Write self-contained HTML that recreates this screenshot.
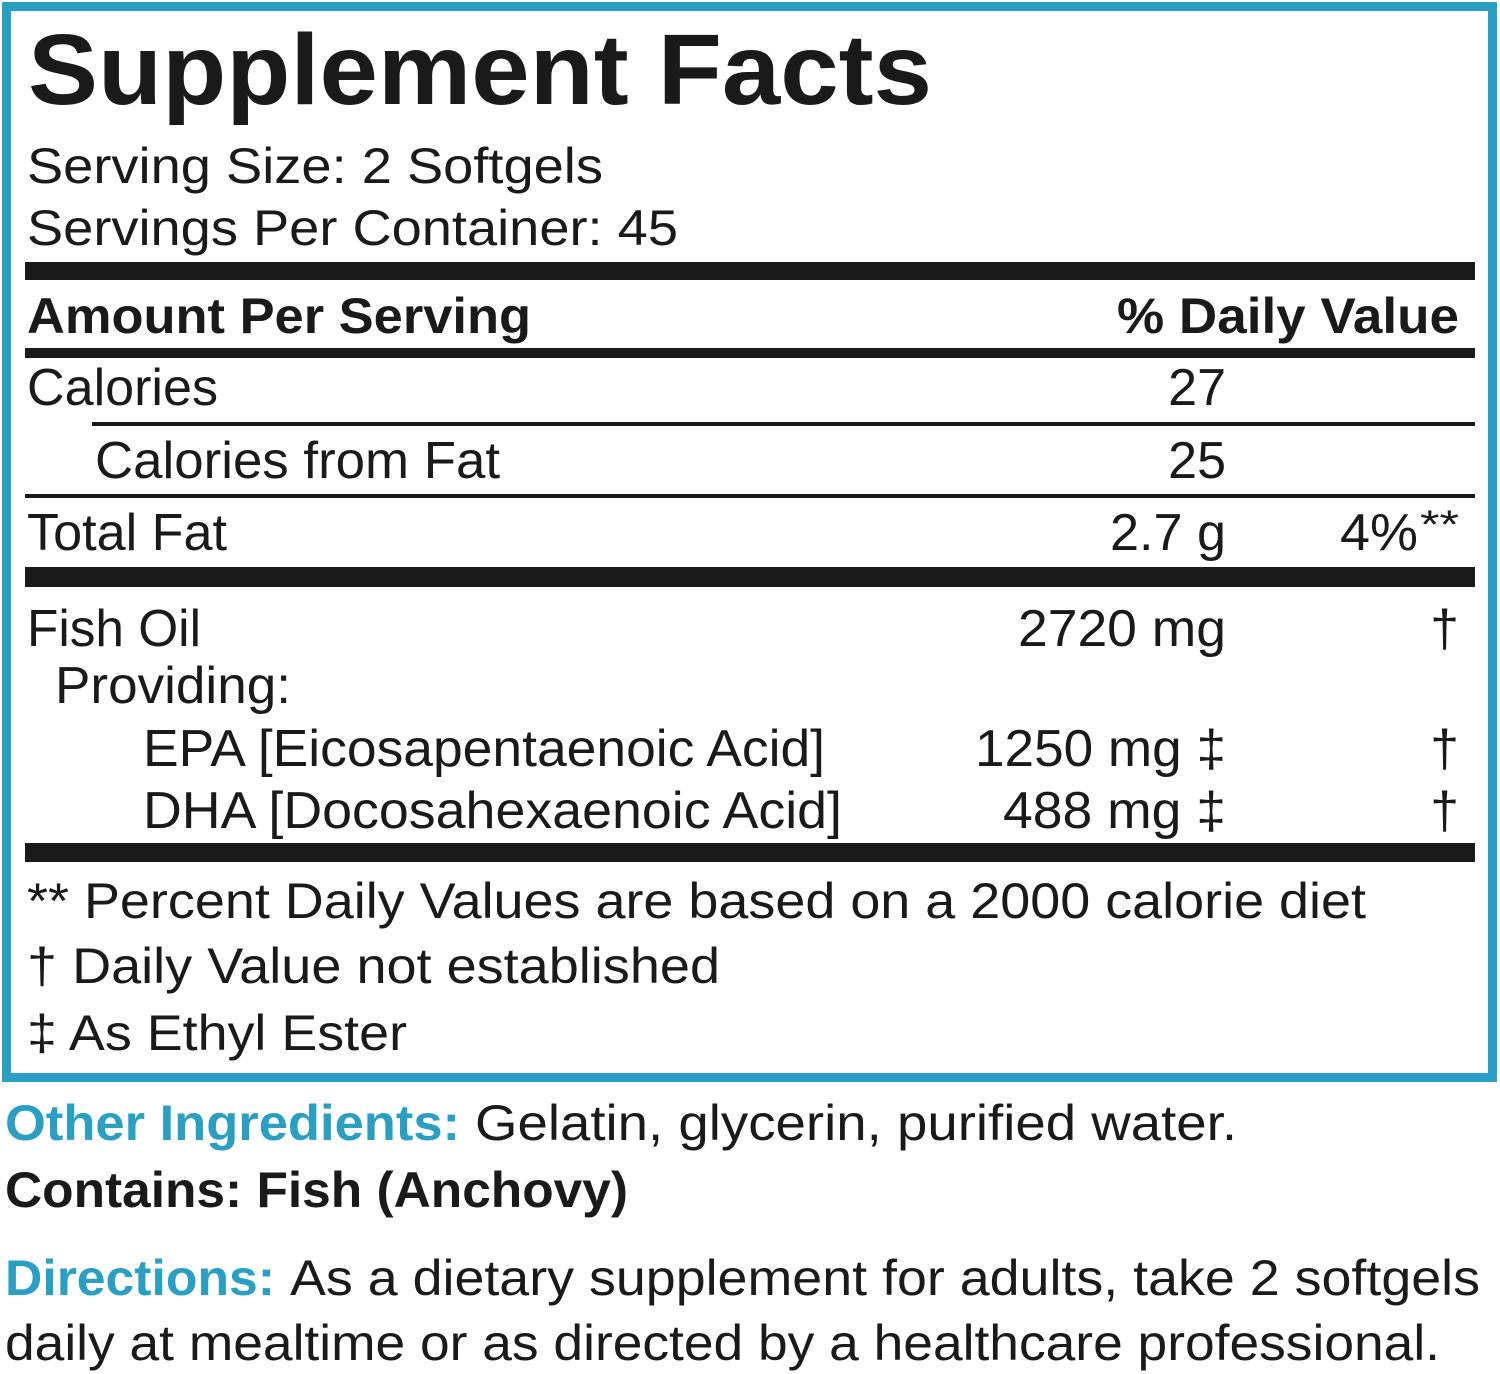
<!DOCTYPE html>
<html><head><meta charset="utf-8"><style>
html,body{margin:0;padding:0;background:#fff;}
svg{display:block;}
text{font-family:"Liberation Sans",Arial,sans-serif;fill:#1a1a1a;}
.b{font-weight:bold;}
.blue{fill:#2a9fc4;}
</style></head><body>
<svg width="1500" height="1374" viewBox="0 0 1500 1374" xmlns="http://www.w3.org/2000/svg">
<rect x="0" y="0" width="1500" height="1374" fill="#fff"/>
<rect x="6.5" y="6.5" width="1486" height="1071" fill="none" stroke="#2a9fc4" stroke-width="9"/>
<text x="28" y="104" class="b" font-size="100" textLength="904" lengthAdjust="spacingAndGlyphs">Supplement Facts</text>
<text x="27" y="183" font-size="50" textLength="576" lengthAdjust="spacingAndGlyphs">Serving Size: 2 Softgels</text>
<text x="27" y="245" font-size="50" textLength="651" lengthAdjust="spacingAndGlyphs">Servings Per Container: 45</text>
<rect x="25" y="262" width="1450" height="18" fill="#1a1a1a"/>
<text x="27" y="333" class="b" font-size="50" textLength="504" lengthAdjust="spacingAndGlyphs">Amount Per Serving</text>
<text x="1459" y="333" class="b" font-size="50" text-anchor="end" textLength="342" lengthAdjust="spacingAndGlyphs">% Daily Value</text>
<rect x="25" y="348" width="1450" height="10" fill="#1a1a1a"/>
<text x="27" y="405" font-size="52" textLength="191" lengthAdjust="spacingAndGlyphs">Calories</text>
<text x="1226" y="405" font-size="52" text-anchor="end">27</text>
<rect x="92" y="422" width="1383" height="4" fill="#1a1a1a"/>
<text x="95" y="478" font-size="52" textLength="405" lengthAdjust="spacingAndGlyphs">Calories from Fat</text>
<text x="1226" y="478" font-size="52" text-anchor="end">25</text>
<rect x="25" y="494" width="1450" height="4" fill="#1a1a1a"/>
<text x="27" y="550" font-size="52" textLength="200" lengthAdjust="spacingAndGlyphs">Total Fat</text>
<text x="1226" y="550" font-size="52" text-anchor="end" textLength="116" lengthAdjust="spacingAndGlyphs">2.7 g</text>
<text x="1340" y="550" font-size="52" textLength="78" lengthAdjust="spacingAndGlyphs">4%</text>
<text x="1420" y="538" font-size="40" textLength="39" lengthAdjust="spacingAndGlyphs">**</text>
<rect x="25" y="567" width="1450" height="20" fill="#1a1a1a"/>
<text x="27" y="646" font-size="52" textLength="174" lengthAdjust="spacingAndGlyphs">Fish Oil</text>
<text x="1226" y="646" font-size="52" text-anchor="end" textLength="208" lengthAdjust="spacingAndGlyphs">2720 mg</text>
<text x="1459" y="646" font-size="52" text-anchor="end">†</text>
<text x="55" y="703" font-size="52" textLength="236" lengthAdjust="spacingAndGlyphs">Providing:</text>
<text x="143" y="766" font-size="52" textLength="682" lengthAdjust="spacingAndGlyphs">EPA [Eicosapentaenoic Acid]</text>
<text x="1226" y="766" font-size="52" text-anchor="end" textLength="251" lengthAdjust="spacingAndGlyphs">1250 mg ‡</text>
<text x="1459" y="766" font-size="52" text-anchor="end">†</text>
<text x="143" y="828" font-size="52" textLength="699" lengthAdjust="spacingAndGlyphs">DHA [Docosahexaenoic Acid]</text>
<text x="1226" y="828" font-size="52" text-anchor="end" textLength="223" lengthAdjust="spacingAndGlyphs">488 mg ‡</text>
<text x="1459" y="828" font-size="52" text-anchor="end">†</text>
<rect x="25" y="843" width="1450" height="19" fill="#1a1a1a"/>
<text x="27" y="918" font-size="50" textLength="1339" lengthAdjust="spacingAndGlyphs">** Percent Daily Values are based on a 2000 calorie diet</text>
<text x="27" y="983" font-size="50" textLength="693" lengthAdjust="spacingAndGlyphs">† Daily Value not established</text>
<text x="27" y="1050" font-size="50" textLength="380" lengthAdjust="spacingAndGlyphs">‡ As Ethyl Ester</text>
<text x="5" y="1140" class="b blue" font-size="50" textLength="455" lengthAdjust="spacingAndGlyphs">Other Ingredients:</text>
<text x="475" y="1140" font-size="50" textLength="762" lengthAdjust="spacingAndGlyphs">Gelatin, glycerin, purified water.</text>
<text x="5" y="1207" class="b" font-size="50" textLength="623" lengthAdjust="spacingAndGlyphs">Contains: Fish (Anchovy)</text>
<text x="5" y="1295" class="b blue" font-size="50" textLength="270" lengthAdjust="spacingAndGlyphs">Directions:</text>
<text x="290" y="1295" font-size="50" textLength="1190" lengthAdjust="spacingAndGlyphs">As a dietary supplement for adults, take 2 softgels</text>
<text x="5" y="1360" font-size="50" textLength="1435" lengthAdjust="spacingAndGlyphs">daily at mealtime or as directed by a healthcare professional.</text>
</svg>
</body></html>
